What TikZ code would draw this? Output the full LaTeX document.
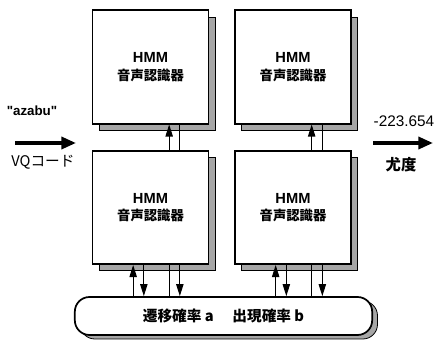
\documentclass[tikz,border=0pt]{standalone}
\usepackage{fontspec}
\setmainfont{Liberation Sans}
\newfontfamily\jp{Noto Sans CJK JP}
\usetikzlibrary{arrows.meta,shadows}

\tikzset{
  hmm/.style={draw, line width=1.3pt, fill=white, minimum width=87pt,
    minimum height=85pt, align=center,
    general shadow={shadow xshift=5pt, shadow yshift=-5pt, fill=black!35,
      draw=black, line width=0.6pt}},
  params/.style={draw, line width=1.3pt, fill=white, rounded corners=11pt,
    minimum width=223pt, minimum height=28.5pt,
    font=\jp\bfseries\fontsize{11}{13}\selectfont,
    general shadow={shadow xshift=4pt, shadow yshift=-3pt, fill=black!35,
      draw=black, line width=0.6pt, rounded corners=11pt}},
  sig/.style={line width=0.8pt},
  tip/.style={-{Triangle[length=9pt,width=5.5pt]}},
  bigarrow/.style={line width=2.6pt, -{Triangle[length=11pt,width=9pt]}},
}

\newcommand{\hmmtext}{{\bfseries\fontsize{11}{13}\selectfont HMM}\\[1pt]%
  {\jp\bfseries\fontsize{10}{12}\selectfont 音声認識器}}

\begin{document}
\begin{tikzpicture}[x=0.75pt, y=-0.75pt]
  \useasboundingbox (0,0) rectangle (436,341);

  % recognizers
  \node[hmm] (hmmA) at (150.5,67) {\hmmtext};
  \node[hmm] (hmmB) at (293,67) {\hmmtext};
  \node[hmm] (hmmC) at (150.5,207.5) {\hmmtext};
  \node[hmm] (hmmD) at (293,207.5) {\hmmtext};

  % shared parameters
  \node[params] (table) at (223.5,316) {遷移確率 a\hspace{14pt}出現確率 b};

  % links between recognizers and the parameters
  \foreach \upper/\lower in {hmmA/hmmC, hmmB/hmmD} {
    \draw[sig,tip] ([xshift=14pt]\lower.north) -- ([xshift=14pt]\upper.south);
    \draw[sig] ([xshift=22pt]\lower.north) -- ([xshift=22pt]\upper.south);
    \draw[sig,tip] ([xshift=-13pt]\lower.south |- table.north) -- ([xshift=-13pt]\lower.south);
    \draw[sig,tip] ([xshift=-5pt]\lower.south) -- ([xshift=-5pt]\lower.south |- table.north);
    \draw[sig] ([xshift=14pt]\lower.south) -- ([xshift=14pt]\lower.south |- table.north);
    \draw[sig,tip] ([xshift=22pt]\lower.south) -- ([xshift=22pt]\lower.south |- table.north);
  }

  % input
  \coordinate (inL) at (15,143);
  \coordinate (inR) at (76,143);
  \draw[bigarrow] (inL) -- (inR);
  \node (word) at (32,111) {\bfseries\fontsize{10}{12}\selectfont \textquotedbl azabu\textquotedbl};
  \node (code) at (43,162) {\jp\fontsize{11}{13}\selectfont VQコード};

  % output
  \coordinate (outL) at (373,143);
  \coordinate (outR) at (433,143);
  \draw[bigarrow] (outL) -- (outR);
  \node (score) at (404,121) {\fontsize{11.5}{13}\selectfont -223.654};
  \node (lik) at (401,165) {\jp\bfseries\fontsize{11.5}{13}\selectfont 尤度};
\end{tikzpicture}
\end{document}
